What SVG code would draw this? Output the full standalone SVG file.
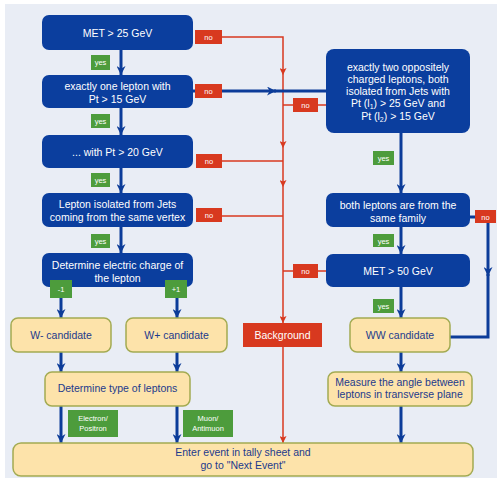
<svg xmlns="http://www.w3.org/2000/svg" width="498" height="482" viewBox="0 0 498 482">
<defs>
<marker id="ab" viewBox="0 0 10 10" refX="10" refY="5" markerWidth="9" markerHeight="9" markerUnits="userSpaceOnUse" orient="auto"><path d="M0,0 L10,5 L0,10 L3,5 z" fill="#0c3c99"/></marker>
<marker id="ar" viewBox="0 0 10 10" refX="10" refY="5" markerWidth="7" markerHeight="7" markerUnits="userSpaceOnUse" orient="auto"><path d="M0,0 L10,5 L0,10 L2,5 z" fill="#d8391f"/></marker>
<style>
.bb{fill:#0b3e9e}
.yb{fill:#fde3aa;stroke:#a3ab52;stroke-width:1.5}
.rb{fill:#d8391f}
.gb{fill:#4d9c3c}
.wt{font-family:"Liberation Sans",Arial,sans-serif;font-size:10.5px;fill:#ffffff;text-anchor:middle}
.yt{font-family:"Liberation Sans",Arial,sans-serif;font-size:10.5px;fill:#1c3a8c;text-anchor:middle}
.st{font-family:"Liberation Sans",Arial,sans-serif;font-size:7.5px;fill:#ffffff;text-anchor:middle}
.bl{fill:none;stroke:#0c3c99;stroke-width:3}
.rl{fill:none;stroke:#d8391f;stroke-width:1.5}
</style>
</defs>
<rect x="0" y="0" width="498" height="482" fill="#ffffff"/>
<rect x="5" y="4" width="492" height="474" fill="#e9edf5"/>

<g id="connectors">
<path class="rl" d="M222,37 H283 V75" marker-end="url(#ar)"/>
<path class="rl" d="M283,75 V148" marker-end="url(#ar)"/>
<path class="rl" d="M283,148 V187" marker-end="url(#ar)"/>
<path class="rl" d="M283,187 V323" marker-end="url(#ar)"/>
<path class="rl" d="M222,161 H283"/>
<path class="rl" d="M222,216 H283"/>
<path class="rl" d="M283,105 H326"/>
<path class="rl" d="M283,271 H326"/>
<path class="rl" d="M283,347 V443" marker-end="url(#ar)"/>
<path class="bl" d="M193,91 H276" marker-end="url(#ab)"/>
<path class="bl" d="M274,91 H326"/>
<path class="bl" d="M121,50 V75" marker-end="url(#ab)"/>
<path class="bl" d="M121,108 V135" marker-end="url(#ab)"/>
<path class="bl" d="M121,168 V193" marker-end="url(#ab)"/>
<path class="bl" d="M121,227 V253" marker-end="url(#ab)"/>
<path class="bl" d="M61,287 V318" marker-end="url(#ab)"/>
<path class="bl" d="M177,287 V318" marker-end="url(#ab)"/>
<path class="bl" d="M61,352 V372" marker-end="url(#ab)"/>
<path class="bl" d="M177,352 V372" marker-end="url(#ab)"/>
<path class="bl" d="M61,406 V443" marker-end="url(#ab)"/>
<path class="bl" d="M177,406 V443" marker-end="url(#ab)"/>
<path class="bl" d="M401,133 V193" marker-end="url(#ab)"/>
<path class="bl" d="M401,227 V254" marker-end="url(#ab)"/>
<path class="bl" d="M401,287 V318" marker-end="url(#ab)"/>
<path class="bl" d="M401,352 V372" marker-end="url(#ab)"/>
<path class="bl" d="M401,406 V443" marker-end="url(#ab)"/>
<path class="bl" d="M470,217 H476"/>
<path class="bl" d="M488,222 V276" marker-end="url(#ab)"/>
<path class="bl" d="M488,274 V337 H450"/>
</g>

<g id="met25"><rect class="bb" x="42" y="15" width="151" height="35" rx="7"/><text class="wt" x="117.5" y="37">MET &gt; 25 GeV</text></g>
<g id="onelepton"><rect class="bb" x="42" y="75" width="151" height="33" rx="7"/><text class="wt" x="117.5" y="90">exactly one lepton with</text><text class="wt" x="117.5" y="103">Pt &gt; 15 GeV</text></g>
<g id="pt20"><rect class="bb" x="42" y="135" width="151" height="33" rx="7"/><text class="wt" x="117.5" y="156">... with Pt &gt; 20 GeV</text></g>
<g id="isolated"><rect class="bb" x="42" y="193" width="151" height="34" rx="7"/><text class="wt" x="117.5" y="208">Lepton isolated from Jets</text><text class="wt" x="117.5" y="221">coming from the same vertex</text></g>
<g id="charge"><rect class="bb" x="42" y="253" width="151" height="34" rx="7"/><text class="wt" x="117.5" y="269">Determine electric charge of</text><text class="wt" x="117.5" y="282">the lepton</text></g>

<g id="twoleptons"><rect class="bb" x="326" y="49" width="144" height="84" rx="8"/>
<text class="wt" x="398" y="71">exactly two oppositely</text>
<text class="wt" x="398" y="83">charged leptons, both</text>
<text class="wt" x="398" y="95">isolated from Jets with</text>
<text class="wt" x="398" y="107">Pt (l<tspan font-size="7" dy="2">1</tspan><tspan dy="-2">) &gt; 25 GeV and</tspan></text>
<text class="wt" x="398" y="120">Pt (l<tspan font-size="7" dy="2">2</tspan><tspan dy="-2">) &gt; 15 GeV</tspan></text></g>
<g id="family"><rect class="bb" x="326" y="193" width="144" height="34" rx="7"/><text class="wt" x="398" y="209">both leptons are from the</text><text class="wt" x="398" y="222">same family</text></g>
<g id="met50"><rect class="bb" x="326" y="254" width="144" height="33" rx="7"/><text class="wt" x="398" y="275">MET &gt; 50 GeV</text></g>

<g id="wminus"><rect class="yb" x="11" y="318" width="100" height="34" rx="7"/><text class="yt" x="61" y="339">W- candidate</text></g>
<g id="wplus"><rect class="yb" x="126" y="318" width="101" height="34" rx="7"/><text class="yt" x="176.5" y="339">W+ candidate</text></g>
<g id="type"><rect class="yb" x="45" y="372" width="145" height="34" rx="7"/><text class="yt" x="117.5" y="392">Determine type of leptons</text></g>
<g id="ww"><rect class="yb" x="350" y="318" width="100" height="34" rx="7"/><text class="yt" x="400" y="339">WW candidate</text></g>
<g id="angle"><rect class="yb" x="328" y="372" width="144" height="34" rx="7"/><text class="yt" x="400" y="386">Measure the angle between</text><text class="yt" x="400" y="398">leptons in transverse plane</text></g>
<g id="tally"><rect class="yb" x="13" y="443" width="460" height="33" rx="8"/><text class="yt" x="243" y="456">Enter event in tally sheet and</text><text class="yt" x="243" y="469">go to "Next Event"</text></g>
<g id="background"><rect class="rb" x="243" y="323" width="79" height="24"/><text class="wt" x="282.5" y="339" font-size="11.5">Background</text></g>

<g id="labels">
<rect class="rb" x="195" y="30" width="27" height="14"/><text class="st" x="208.5" y="40">no</text>
<rect class="rb" x="195" y="84" width="27" height="14"/><text class="st" x="208.5" y="94">no</text>
<rect class="rb" x="196" y="154" width="26" height="14"/><text class="st" x="209" y="164">no</text>
<rect class="rb" x="196" y="208" width="26" height="14"/><text class="st" x="209" y="218">no</text>
<rect class="rb" x="293" y="98" width="25" height="14"/><text class="st" x="305.5" y="108">no</text>
<rect class="rb" x="293" y="264" width="25" height="14"/><text class="st" x="305.5" y="274">no</text>
<rect class="rb" x="475" y="210" width="21" height="13"/><text class="st" x="485.5" y="219.5">no</text>
<rect class="gb" x="91" y="55" width="19" height="15"/><text class="st" x="100.5" y="65">yes</text>
<rect class="gb" x="91" y="114" width="19" height="14"/><text class="st" x="100.5" y="124">yes</text>
<rect class="gb" x="91" y="173" width="19" height="14"/><text class="st" x="100.5" y="183">yes</text>
<rect class="gb" x="91" y="234" width="19" height="14"/><text class="st" x="100.5" y="244">yes</text>
<rect class="gb" x="373" y="151" width="21" height="14"/><text class="st" x="383.5" y="161">yes</text>
<rect class="gb" x="373" y="234" width="21" height="13"/><text class="st" x="383.5" y="243.5">yes</text>
<rect class="gb" x="373" y="299" width="21" height="14"/><text class="st" x="383.5" y="309">yes</text>
<rect class="gb" x="50" y="280" width="22" height="18"/><text class="st" x="61" y="292">-1</text>
<rect class="gb" x="165" y="280" width="22" height="18"/><text class="st" x="176" y="292">+1</text>
<rect class="gb" x="68" y="410" width="50" height="27"/><text class="st" x="93" y="421">Electron/</text><text class="st" x="93" y="431">Positron</text>
<rect class="gb" x="183" y="410" width="50" height="27"/><text class="st" x="208" y="421">Muon/</text><text class="st" x="208" y="431">Antimuon</text>
</g>
</svg>
